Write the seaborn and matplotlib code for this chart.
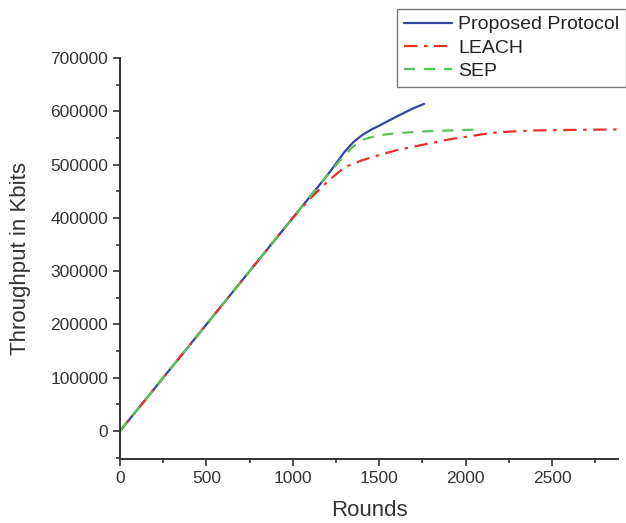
import matplotlib
matplotlib.use("Agg")
import matplotlib.pyplot as plt
import seaborn as sns
import pandas as pd
from matplotlib.ticker import MultipleLocator

sns.set_style("ticks")
plt.rcParams['font.family'] = ['Liberation Sans', 'DejaVu Sans']

# Data
proposed_x = [0, 250, 500, 750, 1000, 1100, 1200, 1300, 1350, 1400, 1450, 1500, 1600, 1700, 1760]
proposed_y = [0, 100000, 200000, 300000, 400000, 440000, 480000, 524000, 542000, 555000, 565000, 573000, 590000, 606000, 614000]

leach_x = [0, 250, 500, 750, 1000, 1100, 1200, 1300, 1400, 1500, 1600, 1750, 1900, 2000, 2100, 2200, 2400, 2600, 2880]
leach_y = [0, 100000, 200000, 300000, 400000, 436000, 468000, 495000, 508000, 518000, 527000, 537000, 547000, 552000, 557000, 561000, 564000, 565000, 566000]

sep_x = [0, 250, 500, 750, 1000, 1100, 1200, 1300, 1350, 1400, 1450, 1500, 1600, 1750, 1900, 2083]
sep_y = [0, 100000, 200000, 300000, 400000, 440000, 480000, 518000, 534000, 546000, 551000, 555000, 559000, 562000, 564000, 566000]

series = ["Proposed Protocol", "LEACH", "SEP"]
colors = ["#3445a6", "#e8302a", "#58c25a"]
styles = ["-", (0, (6, 3, 1.5, 3)), (0, (5, 4))]

frames = []
for name, xs, ys in zip(series, [proposed_x, leach_x, sep_x], [proposed_y, leach_y, sep_y]):
    frames.append(pd.DataFrame({"Rounds": xs, "Throughput": ys, "Series": name}))
df = pd.concat(frames, ignore_index=True)

fig = plt.figure(figsize=(6.26, 5.23), dpi=100)
ax = fig.add_axes([120/626, 1 - 459/523, (618 - 120)/626, (459 - 58)/523])

for name, c, ls in zip(series, colors, styles):
    sub = df[df["Series"] == name]
    sns.lineplot(data=sub, x="Rounds", y="Throughput", ax=ax, color=c, linestyle=ls,
                 linewidth=1.6, label=name, sort=False)

ax.set_xlim(0, 2882)
ax.set_ylim(-52500, 700000)
ax.xaxis.set_major_locator(MultipleLocator(500))
ax.xaxis.set_minor_locator(MultipleLocator(250))
ax.yaxis.set_minor_locator(MultipleLocator(50000))
ax.tick_params(axis='both', which='major', length=5, width=1.2, labelsize=12.5, colors='#333333', labelcolor='#333333')
ax.tick_params(axis='both', which='minor', length=3, width=1.2, colors='#333333')
ax.set_yticks(range(0, 700001, 100000))
ax.set_yticklabels([str(v) for v in range(0, 700001, 100000)])
for s in ["top", "right"]:
    ax.spines[s].set_visible(False)
for s in ["left", "bottom"]:
    ax.spines[s].set_linewidth(1.4)
    ax.spines[s].set_color('#333333')

ax.set_xlabel("Rounds", fontsize=16, color='#333333', labelpad=10)
ax.set_ylabel("Throughput in Kbits", fontsize=16, color='#333333', labelpad=14)

leg = ax.legend(loc="upper left", bbox_to_anchor=(397/626, 1 - 9/523), bbox_transform=fig.transFigure,
                fontsize=14, frameon=True, fancybox=False, handlelength=2.5, borderaxespad=0,
                labelspacing=0.3, handletextpad=0.3, borderpad=0.35)
leg.get_frame().set_edgecolor('#555555')
leg.get_frame().set_linewidth(1.0)
for t in leg.get_texts():
    t.set_color('#222222')

fig.savefig("out.png", dpi=100)
